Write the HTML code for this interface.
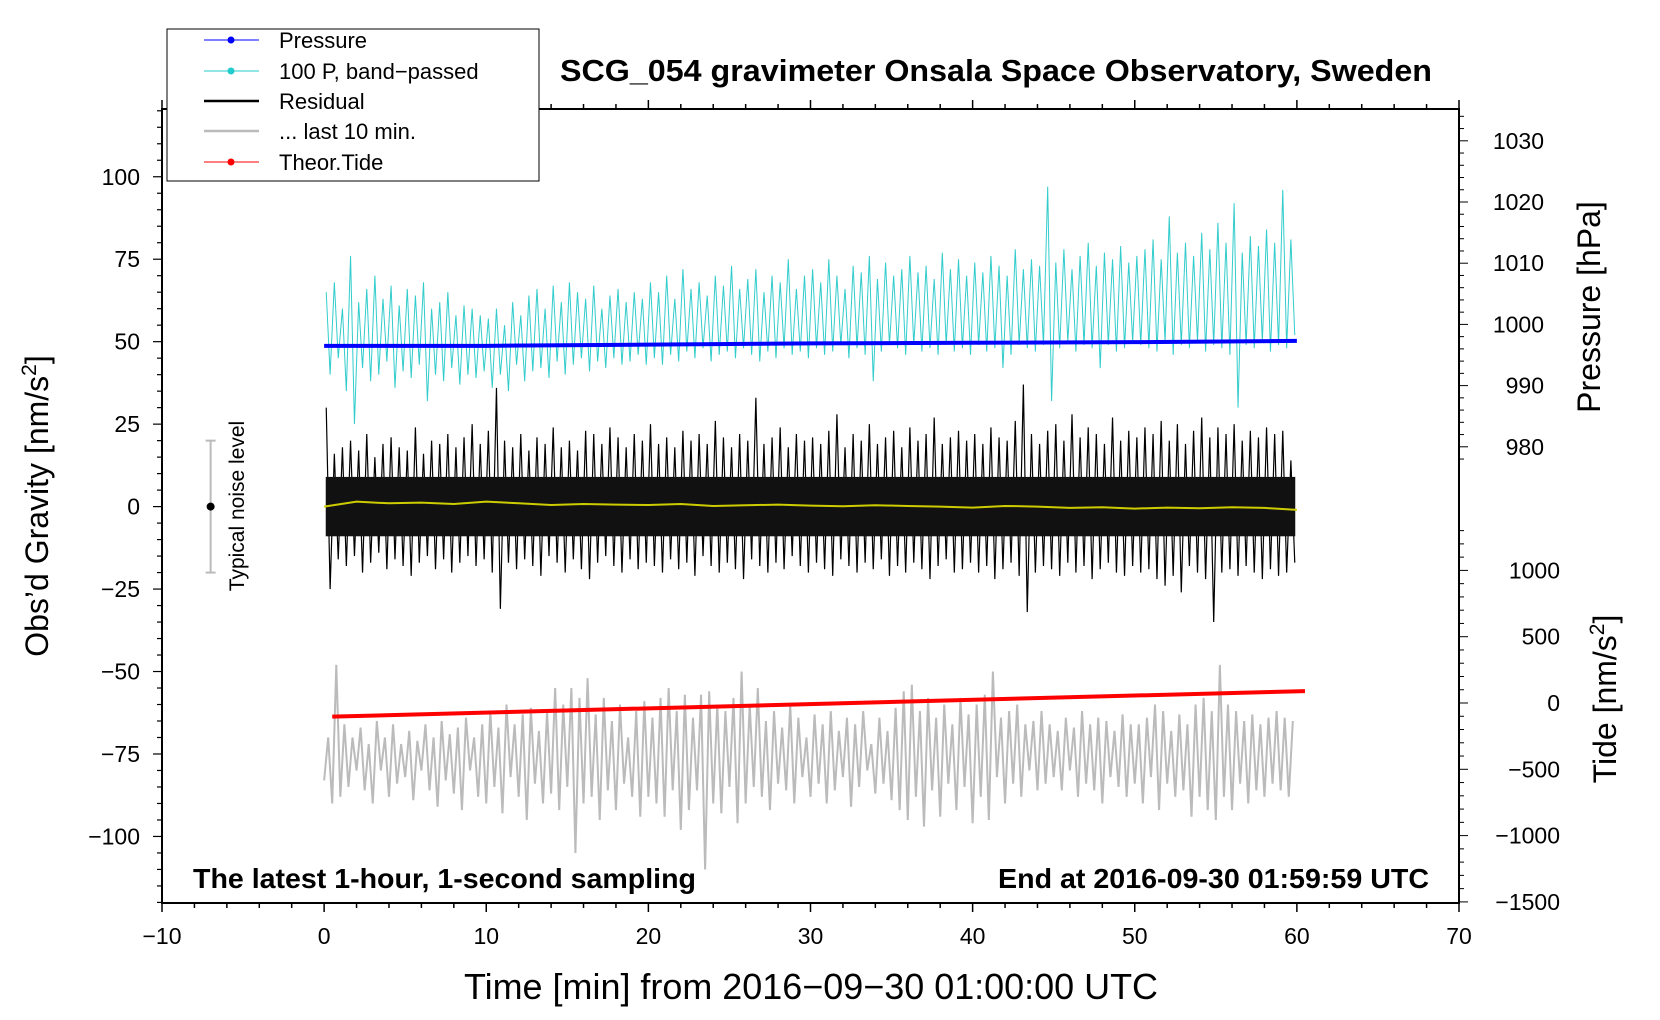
<!DOCTYPE html>
<html><head><meta charset="utf-8">
<style>
html,body{margin:0;padding:0;background:#fff;}
svg{display:block;font-family:"Liberation Sans",sans-serif;}
</style></head>
<body>
<svg id="chart" width="1660" height="1020" viewBox="0 0 1660 1020">
<g id="marks"></g>
<g id="axes"></g>
<text x="996" y="81" text-anchor="middle" font-size="31" font-weight="bold" textLength="872" lengthAdjust="spacingAndGlyphs">SCG_054 gravimeter Onsala Space Observatory, Sweden</text>
<text x="193" y="888" font-size="28" font-weight="bold" textLength="503" lengthAdjust="spacingAndGlyphs">The latest 1-hour, 1-second sampling</text>
<text x="998" y="888" font-size="28" font-weight="bold" textLength="431" lengthAdjust="spacingAndGlyphs">End at 2016-09-30 01:59:59 UTC</text>
<text x="811" y="999" text-anchor="middle" font-size="36" textLength="694" lengthAdjust="spacingAndGlyphs">Time [min] from 2016−09−30 01:00:00 UTC</text>
<text transform="translate(48,506) rotate(-90)" text-anchor="middle" font-size="32">Obs’d Gravity [nm/s<tspan font-size="21" dy="-12">2</tspan><tspan dy="12">]</tspan></text>
<text transform="translate(1600,307) rotate(-90)" text-anchor="middle" font-size="32">Pressure [hPa]</text>
<text transform="translate(1616,699) rotate(-90)" text-anchor="middle" font-size="32">Tide [nm/s<tspan font-size="21" dy="-12">2</tspan><tspan dy="12">]</tspan></text>
<text transform="translate(244,506) rotate(-90)" text-anchor="middle" font-size="21">Typical noise level</text>
<g>
<rect x="167" y="29" width="372" height="152" fill="#fff" stroke="#000" stroke-width="1"/>
<g><line x1="204" y1="40" x2="259" y2="40" stroke="#00f" stroke-width="1"/><circle cx="231" cy="40" r="3.5" fill="#00f"/><text x="279" y="48" font-size="22">Pressure</text></g>
<g><line x1="204" y1="71" x2="259" y2="71" stroke="#2cc" stroke-width="1"/><circle cx="231" cy="71" r="3.5" fill="#2cc"/><text x="279" y="79" font-size="22">100 P, band−passed</text></g>
<g><line x1="204" y1="101" x2="259" y2="101" stroke="#000" stroke-width="2.5"/><text x="279" y="109" font-size="22">Residual</text></g>
<g><line x1="204" y1="131" x2="259" y2="131" stroke="#bbb" stroke-width="2.5"/><text x="279" y="139" font-size="22">... last 10 min.</text></g>
<g><line x1="204" y1="162" x2="259" y2="162" stroke="#f00" stroke-width="1"/><circle cx="231" cy="162" r="3.5" fill="#f00"/><text x="279" y="170" font-size="22">Theor.Tide</text></g>
</g>
</svg>
<script>
const xTicks=[-10,0,10,20,30,40,50,60,70];
const gravTicks=[100,75,50,25,0,-25,-50,-75,-100];
const presTicks=[1030,1020,1010,1000,990,980];
const tideTicks=[1000,500,0,-500,-1000,-1500];
const resMax=[30,16,18,20,17,22,15,19,21,18,17,24,16,20,19,22,18,21,25,19,
23,36,20,18,22,17,21,19,24,18,20,17,23,22,19,24,21,18,22,20,
25,19,21,18,23,20,22,19,26,21,18,22,20,33,19,21,24,18,22,20,
21,19,23,28,18,22,20,25,19,21,23,18,24,20,22,27,19,21,23,20,
22,19,24,21,20,26,37,22,19,23,25,20,28,21,24,22,19,27,20,23,
21,24,22,26,20,25,19,23,27,21,24,22,25,20,23,21,24,22,23,14];
const resMin=[-25,-16,-18,-15,-20,-17,-14,-19,-16,-18,-21,-17,-15,-19,-16,-20,-17,-15,-18,-16,
-20,-31,-17,-19,-16,-18,-21,-15,-17,-20,-16,-19,-22,-17,-15,-18,-20,-16,-19,-17,
-18,-20,-16,-19,-17,-21,-15,-18,-20,-17,-19,-22,-16,-18,-20,-17,-19,-15,-18,-20,
-17,-19,-21,-16,-18,-20,-17,-19,-16,-21,-18,-20,-17,-19,-22,-18,-16,-20,-19,-17,
-20,-18,-22,-19,-17,-21,-32,-20,-18,-19,-21,-17,-20,-18,-22,-19,-17,-20,-21,-18,
-20,-19,-22,-24,-21,-26,-18,-20,-22,-35,-20,-19,-21,-18,-20,-22,-19,-21,-20,-17];
const cyanMax=[65,68,60,76,62,66,70,63,67,61,66,64,68,60,62,65,58,61,60,58,
57,60,55,62,58,64,66,60,67,62,68,65,63,67,60,64,66,62,65,63,
68,65,70,63,72,66,68,64,70,67,73,66,69,72,65,70,68,75,66,70,
72,68,75,70,66,73,71,76,69,74,70,72,76,71,73,69,77,72,75,70,
74,71,76,73,70,78,72,75,73,97,74,78,72,76,80,73,77,75,79,74,
76,78,81,75,88,77,80,76,83,78,86,80,92,77,82,79,84,80,96,81];
const cyanMin=[40,45,35,25,42,38,40,44,36,41,39,43,32,40,38,42,37,40,39,41,
36,40,35,43,38,41,42,39,44,40,43,45,41,44,42,45,43,44,46,43,
45,43,46,44,47,45,48,44,46,47,45,48,46,44,47,45,48,46,47,45,
48,46,47,49,45,48,46,38,47,49,48,46,49,47,48,46,49,47,48,46,
49,47,48,42,46,49,48,47,49,32,48,50,47,49,48,42,49,47,48,50,
49,48,47,50,46,49,48,50,47,49,48,46,30,49,48,50,47,49,48,52];
const greyVals=[-83,-70,-90,-48,-88,-66,-85,-70,-80,-67,-86,-72,-90,-65,-80,-70,-88,-66,-84,-72,
-82,-68,-89,-71,-80,-66,-86,-70,-91,-65,-83,-69,-87,-67,-92,-64,-80,-70,-88,-66,
-90,-62,-85,-67,-93,-60,-82,-66,-88,-63,-95,-61,-84,-68,-90,-62,-87,-55,-92,-60,
-85,-55,-105,-58,-90,-52,-88,-63,-95,-58,-86,-65,-92,-60,-84,-70,-88,-62,-94,-59,
-88,-64,-90,-58,-94,-55,-86,-62,-98,-57,-92,-64,-86,-57,-110,-56,-90,-60,-93,-62,
-85,-58,-96,-50,-90,-60,-85,-55,-88,-65,-92,-62,-84,-67,-86,-60,-90,-64,-82,-70,
-88,-63,-84,-66,-90,-62,-86,-68,-82,-64,-91,-66,-85,-62,-80,-72,-87,-64,-84,-68,
-89,-61,-92,-56,-95,-54,-88,-62,-97,-58,-86,-64,-94,-60,-84,-66,-92,-58,-85,-63,
-96,-60,-88,-57,-95,-50,-82,-64,-90,-62,-84,-60,-88,-66,-80,-65,-86,-62,-84,-66,
-82,-68,-86,-64,-80,-67,-88,-62,-84,-66,-86,-64,-90,-65,-82,-68,-85,-63,-88,-66,
-84,-66,-90,-64,-82,-60,-92,-62,-84,-68,-88,-63,-86,-66,-94,-60,-88,-58,-92,-62,
-95,-48,-88,-60,-92,-62,-84,-65,-90,-63,-86,-66,-88,-64,-84,-62,-86,-64,-88,-65];
const smoothVals=[0,1.5,1,1.2,0.8,1.5,1,0.5,0.8,0.6,0.5,0.8,0.2,0.4,0.6,0.3,0.1,0.4,0.2,0,-0.3,0.2,0,-0.4,-0.2,-0.6,-0.3,-0.5,-0.2,-0.4,-1];
const presTimes=[0,10,20,30,40,50,60];
const presVals=[996.5,996.5,996.7,996.9,997.0,997.1,997.3];
const tideTimes=[0.5,60.5];
const tideVals=[-103,90];

const NS='http://www.w3.org/2000/svg';
const marks=document.getElementById('marks');
const axes=document.getElementById('axes');
const L=162,R=1459,T=109,B=903;
function xs(t){return L+(t+10)*(R-L)/80;}
function ys(v){return 506.6-v*3.2985;}
function yp(p){return 446.8-(p-980)*6.12;}
function yt(v){return 703-v*0.1326;}
function mk(tag,attrs,parent){const e=document.createElementNS(NS,tag);for(const k in attrs)e.setAttribute(k,attrs[k]);(parent||marks).appendChild(e);return e;}

let pts=[];
cyanMax.forEach((v,i)=>{const t=i*0.5+0.25;pts.push(xs(t-0.12)+','+ys(v));pts.push(xs(t+0.12)+','+ys(cyanMin[i]));});
let e=mk('polyline',{points:pts.join(' '),fill:'none',stroke:'#3cc','stroke-width':1});


pts=presTimes.map((t,i)=>xs(t)+','+yp(presVals[i]));
e=mk('polyline',{points:pts.join(' '),fill:'none',stroke:'#00f','stroke-width':4});


pts=[];
resMax.forEach((v,i)=>{const t=i*0.5+0.25;pts.push(xs(t-0.12)+','+ys(v));pts.push(xs(t+0.12)+','+ys(resMin[i]));});
e=mk('polyline',{points:pts.join(' '),fill:'none',stroke:'#000','stroke-width':1.2});


e=mk('rect',{x:xs(0.1),y:ys(9),width:xs(59.9)-xs(0.1),height:ys(-9)-ys(9),fill:'#111'});


pts=smoothVals.map((v,i)=>xs(i*2)+','+ys(v));
e=mk('polyline',{points:pts.join(' '),fill:'none',stroke:'#cc0','stroke-width':2});


pts=greyVals.map((v,i)=>xs(i*0.25)+','+ys(v));
e=mk('polyline',{points:pts.join(' '),fill:'none',stroke:'#bbb','stroke-width':2});


pts=tideTimes.map((t,i)=>xs(t)+','+yt(tideVals[i]));
e=mk('polyline',{points:pts.join(' '),fill:'none',stroke:'#f00','stroke-width':4});


e=mk('line',{x1:xs(-7),x2:xs(-7),y1:ys(20),y2:ys(-20),stroke:'#bbb','stroke-width':2});


mk('line',{x1:xs(-7)-5,x2:xs(-7)+5,y1:ys(20),y2:ys(20),stroke:'#bbb','stroke-width':2});
mk('line',{x1:xs(-7)-5,x2:xs(-7)+5,y1:ys(-20),y2:ys(-20),stroke:'#bbb','stroke-width':2});
mk('circle',{cx:xs(-7),cy:ys(0),r:4,fill:'#000'});

e=mk('rect',{x:L,y:T,width:R-L,height:B-T,fill:'none',stroke:'#000','stroke-width':2},axes);


for(let t=-10;t<=70;t+=2){const mj=t%10===0;mk('line',{x1:xs(t),x2:xs(t),y1:B,y2:B+(mj?9:5),stroke:'#000','stroke-width':1.5},axes);mk('line',{x1:xs(t),x2:xs(t),y1:T,y2:T-(mj?9:5),stroke:'#000','stroke-width':1.5},axes);}
xTicks.forEach(t=>{const tx=mk('text',{x:xs(t),y:944,'text-anchor':'middle','font-size':23},axes);tx.textContent=String(t).replace('-','−');

});
for(let v=-120;v<=120;v+=5){const mj=v%25===0;mk('line',{x1:L,x2:L-(mj?9:5),y1:ys(v),y2:ys(v),stroke:'#000','stroke-width':1.2},axes);}
gravTicks.forEach(v=>{const tx=mk('text',{x:140,y:ys(v)+8,'text-anchor':'end','font-size':23},axes);tx.textContent=String(v).replace('-','−');

});
for(let p=978;p<=1035;p+=2){const mj=p%10===0;mk('line',{x1:R,x2:R+(mj?9:5),y1:yp(p),y2:yp(p),stroke:'#000','stroke-width':1},axes);}
presTicks.forEach(p=>{const tx=mk('text',{x:1544,y:yp(p)+8,'text-anchor':'end','font-size':23},axes);tx.textContent=String(p);

});
for(let v=-1500;v<=1300;v+=100){if(yt(v)<yp(978))continue;const mj=v%500===0;mk('line',{x1:R,x2:R+(mj?9:5),y1:yt(v),y2:yt(v),stroke:'#000','stroke-width':1},axes);}
tideTicks.forEach(v=>{const tx=mk('text',{x:1560,y:yt(v)+8,'text-anchor':'end','font-size':23},axes);tx.textContent=String(v).replace('-','−');

});
</script>
</body></html>
